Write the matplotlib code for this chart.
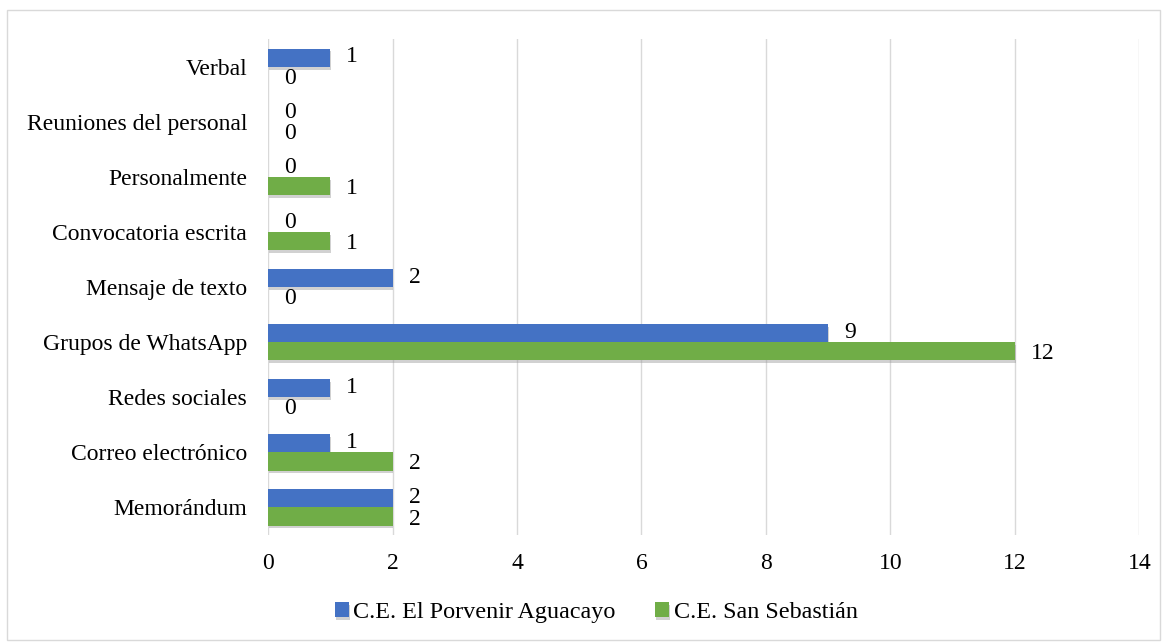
import numpy as np
import matplotlib.pyplot as plt
import matplotlib.patheffects as pe
from matplotlib.patches import Rectangle

# datos (de abajo hacia arriba)
categorias = ['Memorándum', 'Correo electrónico', 'Redes sociales', 'Grupos de WhatsApp',
              'Mensaje de texto', 'Convocatoria escrita', 'Personalmente',
              'Reuniones del personal', 'Verbal']
porvenir = [2, 1, 1, 9, 2, 0, 0, 0, 1]
san_sebastian = [2, 2, 0, 12, 0, 1, 1, 0, 0]
series = ['C.E. El Porvenir Aguacayo', 'C.E. San Sebastián']

AZUL = '#4472C4'
VERDE = '#70AD47'
FS = 17

plt.rcParams['font.family'] = ['Liberation Serif', 'DejaVu Serif']

fig = plt.figure(figsize=(11.67, 6.43), dpi=100)
ax = fig.add_axes([0.2297, 0.168, 0.7466, 0.771])

y = np.arange(len(categorias))
h = 0.33
sombra = [pe.SimplePatchShadow(offset=(0.5, -2), shadow_rgbFace='#999999', alpha=0.45), pe.Normal()]
b1 = ax.barh(y + h / 2, porvenir, h, color=AZUL, label=series[0], zorder=3, path_effects=sombra)
b2 = ax.barh(y - h / 2, san_sebastian, h, color=VERDE, label=series[1], zorder=3, path_effects=sombra)

# etiquetas de valor, un poco separadas entre sí
for barras, vals, dy in [(b1, porvenir, 0.5), (b2, san_sebastian, -1.8)]:
    for b, v in zip(barras, vals):
        ax.annotate(str(v), (v, b.get_y() + b.get_height() / 2), xytext=(11.5, dy),
                    textcoords='offset points', ha='left', va='center', fontsize=FS)

ax.set_xlim(0, 14)
ax.set_ylim(-0.5, 8.5)
ax.set_xticks(range(0, 15, 2))
ax.set_yticks(y)
ax.set_yticklabels(categorias)
ax.tick_params(axis='both', length=0, labelsize=FS)
ax.tick_params(axis='x', pad=13)
ax.tick_params(axis='y', pad=15)
ax.grid(axis='x', color='#D9D9D9', linewidth=1, zorder=0)
for s in ax.spines.values():
    s.set_visible(False)

leg = fig.legend(loc='center', bbox_to_anchor=(0.511, 0.047), ncol=2, frameon=False,
                 fontsize=17.4, handlelength=0.58, handleheight=0.58, handletextpad=0.17,
                 columnspacing=1.65)

# borde exterior
fig.patches.append(Rectangle((0.006, 0.004), 0.988, 0.98, transform=fig.transFigure,
                             fill=False, edgecolor='#D9D9D9', linewidth=1))

fig.savefig('out.png', dpi=100)
